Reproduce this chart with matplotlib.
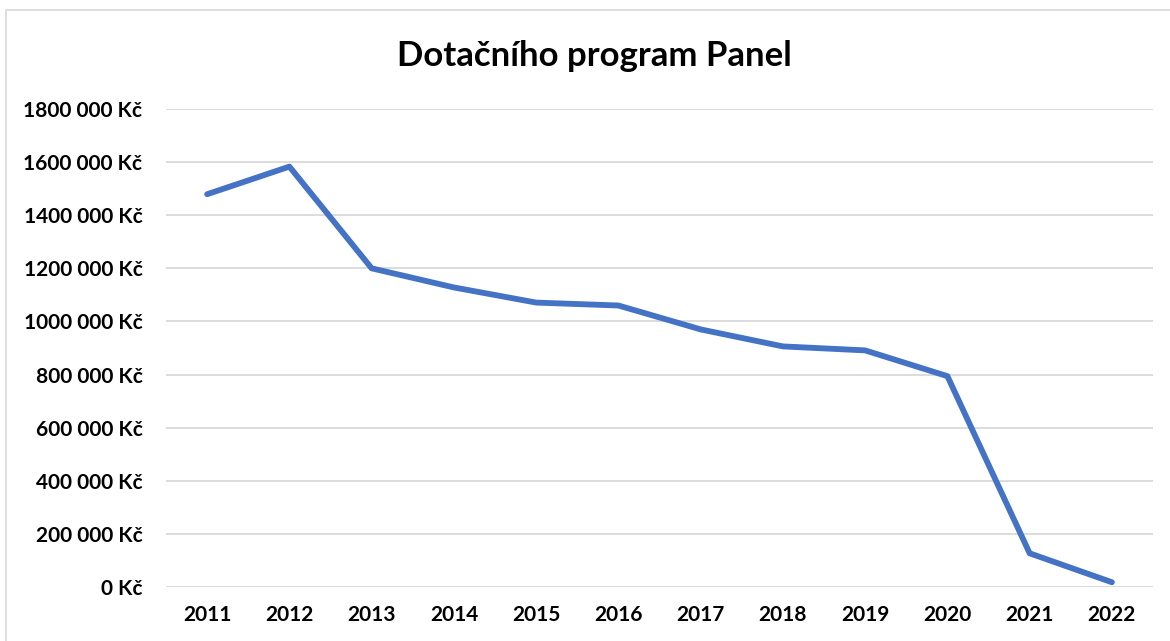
import matplotlib.pyplot as plt
from matplotlib.ticker import FuncFormatter, MultipleLocator
from matplotlib.patches import Rectangle

years = ['2011', '2012', '2013', '2014', '2015', '2016',
         '2017', '2018', '2019', '2020', '2021', '2022']
amounts = [1479000, 1583000, 1200000, 1128000, 1071000, 1060000,
           970000, 906000, 891000, 794000, 127000, 18000]

title = 'Dotačního program Panel'


def kc_format(v, pos):
    v = int(round(v))
    if v == 0:
        return '0 Kč'
    return f'{v // 1000} {v % 1000:03d} Kč'


plt.rcParams['font.family'] = ['Lato', 'DejaVu Sans']

fig = plt.figure(figsize=(11.7, 6.41), dpi=100)
ax = fig.add_axes([0.1419, 0.0842, 0.8436, 0.7458])

# light frame around the chart area
fig.patches.append(Rectangle((0.005, -0.05), 1.1, 1.035, transform=fig.transFigure,
                             fill=False, edgecolor='#d9d9d9', linewidth=1.2))

x = range(len(years))
ax.plot(x, amounts, color='#4472C4', linewidth=4.2, solid_capstyle='round',
        solid_joinstyle='round', zorder=3)

ax.set_xlim(-0.5, len(years) - 0.5)
ax.set_ylim(0, 1800000)
ax.set_xticks(list(x))
ax.set_xticklabels(years)
ax.yaxis.set_major_locator(MultipleLocator(200000))
ax.yaxis.set_major_formatter(FuncFormatter(kc_format))

ax.grid(True, axis='y', color='#d9d9d9', linewidth=1.3)
ax.set_axisbelow(True)
for s in ax.spines.values():
    s.set_visible(False)
ax.tick_params(axis='both', length=0, labelsize=15)
ax.tick_params(axis='y', pad=17)
ax.tick_params(axis='x', pad=13)
for lbl in ax.get_xticklabels() + ax.get_yticklabels():
    lbl.set_fontweight('bold')

fig.text(0.508, 0.912, title, ha='center', va='center',
         fontsize=25, fontweight='bold')

fig.savefig('out.png', dpi=100, facecolor='white')
